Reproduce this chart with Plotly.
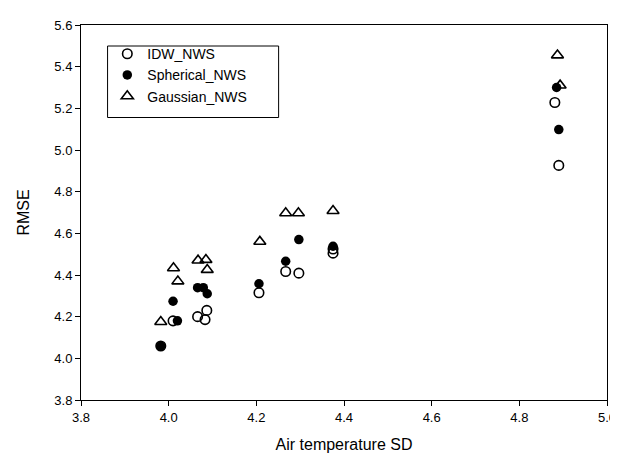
import plotly.graph_objects as go

# Data
idw_x = [3.982, 4.010, 4.066, 4.083, 4.087, 4.206, 4.267, 4.297, 4.375, 4.375, 4.881, 4.890]
idw_y = [4.059, 4.180, 4.200, 4.186, 4.230, 4.315, 4.417, 4.409, 4.505, 4.525, 5.228, 4.926]

sph_x = [3.982, 4.010, 4.020, 4.066, 4.079, 4.088, 4.206, 4.267, 4.297, 4.375, 4.885, 4.890]
sph_y = [4.059, 4.274, 4.180, 4.339, 4.339, 4.310, 4.358, 4.466, 4.570, 4.538, 5.300, 5.098]

gau_x = [3.982, 4.011, 4.021, 4.067, 4.085, 4.088, 4.208, 4.267, 4.296, 4.375, 4.887, 4.893]
gau_y = [4.175, 4.433, 4.370, 4.470, 4.473, 4.425, 4.560, 4.697, 4.697, 4.708, 5.455, 5.310]

x_ticks = [3.8, 4.0, 4.2, 4.4, 4.6, 4.8, 5.0]
y_ticks = [3.8, 4.0, 4.2, 4.4, 4.6, 4.8, 5.0, 5.2, 5.4, 5.6]

FONT = "Liberation Sans, Arial, sans-serif"

fig = go.Figure()
fig.add_trace(go.Scatter(x=idw_x, y=idw_y, mode="markers", name="IDW_NWS",
                         marker=dict(symbol="circle-open", size=9.5, color="black",
                                     line=dict(width=1.6, color="black"))))
fig.add_trace(go.Scatter(x=sph_x, y=sph_y, mode="markers", name="Spherical_NWS",
                         marker=dict(symbol="circle", size=9.5, color="black",
                                     line=dict(width=0))))
fig.add_trace(go.Scatter(x=gau_x, y=gau_y, mode="markers", name="Gaussian_NWS",
                         marker=dict(symbol="triangle-up-open", size=10.5, color="black",
                                     line=dict(width=1.6, color="black"))))

axis_common = dict(showgrid=False, zeroline=False, showline=True, linecolor="black",
                   linewidth=1, mirror=True, ticks="outside", ticklen=5,
                   tickcolor="black", ticklabeloverflow="allow",
                   tickfont=dict(family=FONT, size=13, color="black"))

fig.update_layout(
    width=618, height=453,
    margin=dict(l=73, r=10, t=15, b=61),
    paper_bgcolor="white", plot_bgcolor="white",
    font=dict(family=FONT, color="black"),
    xaxis=dict(range=[3.8, 5.0], tickvals=x_ticks,
               ticktext=[f"{v:.1f}" for v in x_ticks],
               title=dict(text="Air temperature SD", font=dict(family=FONT, size=16)),
               **axis_common),
    yaxis=dict(range=[3.8, 5.6], tickvals=y_ticks,
               ticktext=[f"{v:.1f}" for v in y_ticks],
               title=dict(text="RMSE", font=dict(family=FONT, size=16), standoff=20),
               **axis_common),
    legend=dict(x=0.05, y=0.965, xanchor="left", yanchor="top",
                borderwidth=0, bgcolor="rgba(0,0,0,0)",
                font=dict(family=FONT, size=14), tracegroupgap=0),
    shapes=[dict(type="rect", xref="paper", yref="paper",
                 x0=0.0505, x1=0.3757, y0=0.7533, y1=0.944,
                 line=dict(color="black", width=1), fillcolor="rgba(0,0,0,0)")],
)

fig.write_html("out.html")
